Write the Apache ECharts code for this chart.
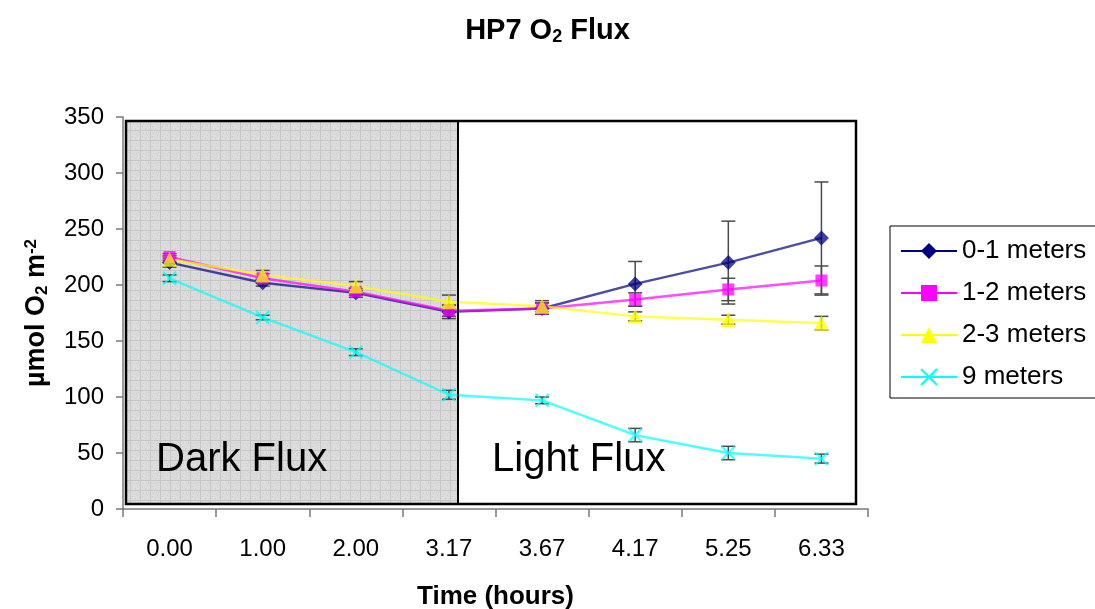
<!DOCTYPE html>
<html>
<head>
<meta charset="utf-8">
<script src="https://cdn.jsdelivr.net/npm/echarts/dist/echarts.min.js"></script>
<style>
  html, body { margin: 0; padding: 0; background: #ffffff; }
  #chart { width: 1095px; height: 609px; }
</style>
</head>
<body>
<div id="chart"></div>
<script>
// Sampling times (hours) shown as category labels
const hours = ['0.00', '1.00', '2.00', '3.17', '3.67', '4.17', '5.25', '6.33'];

// O2 flux per depth band (µmol O2 m^-2)
const depth01 = [220, 202, 193, 176, 179, 201, 220, 242];
const depth12 = [225, 206, 194, 177, 179, 187, 196, 204];
const depth23 = [223, 209, 199, 185, 181, 172, 169, 166];
const depth9  = [206, 171, 140, 102, 97, 66, 50, 45];

// Error bar half-widths for each series
const err01 = [4, 3, 4, 6, 5, 20, 37, 50];
const err12 = [3, 4, 3, 5, 5, 6, 10, 13];
const err23 = [3, 4, 4, 6, 5, 4, 4, 6];
const err9  = [3, 2, 3, 4, 3, 6, 6, 4];

const seriesNames = ['0-1 meters', '1-2 meters', '2-3 meters', '9 meters'];
const yTicks = [0, 50, 100, 150, 200, 250, 300, 350];

// End of the dark incubation period, as a fraction of the plot box width
const DARK_END = 0.454;

const FONT = '"Liberation Sans", Arial, sans-serif';

// Grey hatched fill for the dark period
function hatchPattern() {
  const c = document.createElement('canvas');
  c.width = 10; c.height = 10;
  const g = c.getContext('2d');
  g.fillStyle = '#dcdcdc'; g.fillRect(0, 0, 10, 10);
  g.fillStyle = '#c6c6c6'; g.fillRect(0, 0, 10, 1); g.fillRect(0, 0, 1, 10);
  g.fillStyle = '#cbcbcb';
  [[3, 3], [7, 5], [5, 8], [2, 6], [8, 2], [6, 3]].forEach(p => g.fillRect(p[0], p[1], 1, 1));
  return c;
}

const errorRows = [];
[[depth01, err01], [depth12, err12], [depth23, err23], [depth9, err9]].forEach(([vals, errs]) => {
  vals.forEach((v, i) => errorRows.push([i, v, errs[i]]));
});

function renderErrorBar(params, api) {
  const i = api.value(0), v = api.value(1), e = api.value(2);
  const top = api.coord([i, v + e]);
  const bot = api.coord([i, v - e]);
  const hw = 7;
  const style = { stroke: '#4a4a4a', lineWidth: 1.5 };
  return {
    type: 'group',
    children: [
      { type: 'line', shape: { x1: top[0], y1: top[1], x2: bot[0], y2: bot[1] }, style },
      { type: 'line', shape: { x1: top[0] - hw, y1: top[1], x2: top[0] + hw, y2: top[1] }, style },
      { type: 'line', shape: { x1: bot[0] - hw, y1: bot[1], x2: bot[0] + hw, y2: bot[1] }, style }
    ]
  };
}

function lineSeries(name, data, color, symbol, size, extraItem) {
  return {
    name, type: 'line', data,
    xAxisIndex: 0, yAxisIndex: 0,
    symbol, symbolSize: size,
    lineStyle: { color, width: 2.4, opacity: 0.7 },
    itemStyle: Object.assign({ color, opacity: 0.75 }, extraItem || {}),
    z: 3, animation: false
  };
}

const chart = echarts.init(document.getElementById('chart'), null, { renderer: 'canvas' });

chart.setOption({
  backgroundColor: '#ffffff',
  animation: false,
  title: {
    text: 'HP7 O{sub|2} Flux',
    left: 'center', top: 16, padding: 0,
    textStyle: {
      fontFamily: FONT, fontSize: 29, fontWeight: 'bold', color: '#000',
      rich: { sub: { fontFamily: FONT, fontSize: 18, fontWeight: 'bold', verticalAlign: 'bottom', padding: [12, 0, 0, 0] } }
    }
  },
  legend: {
    orient: 'vertical',
    left: 890, top: 226,
    data: seriesNames,
    padding: [12, 80, 8, 10],
    itemGap: 16,
    itemWidth: 56, itemHeight: 20,
    borderColor: '#000', borderWidth: 1, backgroundColor: '#fff',
    textStyle: { fontFamily: FONT, fontSize: 26, color: '#000', lineHeight: 26 },
    itemStyle: { opacity: 1 },
    lineStyle: { opacity: 1, width: 2 },
    selectedMode: false
  },
  grid: [
    { left: 123, top: 117, right: 227, bottom: 100, show: false, containLabel: false, outerBoundsMode: 'none' },
    { left: 126, top: 121, right: 239, bottom: 105, show: true, borderColor: '#000', borderWidth: 2.5, backgroundColor: 'transparent', z: 4, containLabel: false, outerBoundsMode: 'none' }
  ],
  xAxis: [
    {
      type: 'category', gridIndex: 0, data: hours, boundaryGap: true,
      axisLine: { lineStyle: { color: '#7a7a7a', width: 1.5 } },
      axisTick: { show: true, inside: false, length: 8, lineStyle: { color: '#7a7a7a', width: 1.5 } },
      axisLabel: { fontFamily: FONT, fontSize: 24, color: '#000', margin: 28 },
      name: 'Time (hours)', nameLocation: 'middle', nameGap: 75,
      nameTextStyle: { fontFamily: FONT, fontSize: 26, fontWeight: 'bold', color: '#000' },
      splitLine: { show: false }
    },
    { type: 'value', gridIndex: 1, min: 0, max: 1, show: false }
  ],
  yAxis: [
    {
      type: 'value', gridIndex: 0, min: yTicks[0], max: yTicks[yTicks.length - 1], interval: 50,
      axisLine: { show: true, lineStyle: { color: '#7a7a7a', width: 1.5 } },
      axisTick: { show: true, inside: false, length: 7, lineStyle: { color: '#7a7a7a', width: 1.5 } },
      axisLabel: { fontFamily: FONT, fontSize: 24, color: '#000', margin: 19 },
      splitLine: { show: false },
      name: 'µmol O{sub|2} m{sup|-2}', nameLocation: 'middle', nameGap: 72,
      nameTextStyle: {
        fontFamily: FONT, fontSize: 27, fontWeight: 'bold', color: '#000',
        rich: {
          sub: { fontFamily: FONT, fontSize: 17, fontWeight: 'bold', verticalAlign: 'bottom', padding: [11, 0, 0, 0] },
          sup: { fontFamily: FONT, fontSize: 17, fontWeight: 'bold', verticalAlign: 'top', padding: [0, 0, 11, 0] }
        }
      }
    },
    { type: 'value', gridIndex: 1, min: 0, max: 1, show: false }
  ],
  graphic: [
    { type: 'text', left: 156, top: 440, z: 10, style: { text: 'Dark Flux', font: '40px ' + FONT, fill: '#000' } },
    { type: 'text', left: 492, top: 440, z: 10, style: { text: 'Light Flux', font: '40px ' + FONT, fill: '#000' } }
  ],
  series: [
    {
      name: 'period', type: 'line', xAxisIndex: 1, yAxisIndex: 1, data: [],
      silent: true, z: 0,
      markArea: {
        silent: true,
        itemStyle: { color: { image: hatchPattern(), repeat: 'repeat' } },
        data: [[{ coord: [0, 0] }, { coord: [DARK_END, 1] }]]
      },
      markLine: {
        silent: true, symbol: 'none', label: { show: false },
        lineStyle: { color: '#000', width: 2, type: 'solid' },
        data: [[{ coord: [DARK_END, 0] }, { coord: [DARK_END, 1] }]]
      }
    },
    {
      name: 'errors', type: 'custom', xAxisIndex: 0, yAxisIndex: 0,
      data: errorRows, renderItem: renderErrorBar, z: 2, silent: true,
      encode: { x: 0, y: 1 }
    },
    lineSeries('0-1 meters', depth01, '#000080', 'diamond', 15),
    lineSeries('1-2 meters', depth12, '#ff00ff', 'rect', 12),
    lineSeries('2-3 meters', depth23, '#ffff00', 'triangle', 15),
    lineSeries('9 meters', depth9, '#00ffff', 'path://M0,0L10,10M10,0L0,10', 13,
      { borderColor: '#00ffff', borderWidth: 2 })
  ]
});
</script>
</body>
</html>
